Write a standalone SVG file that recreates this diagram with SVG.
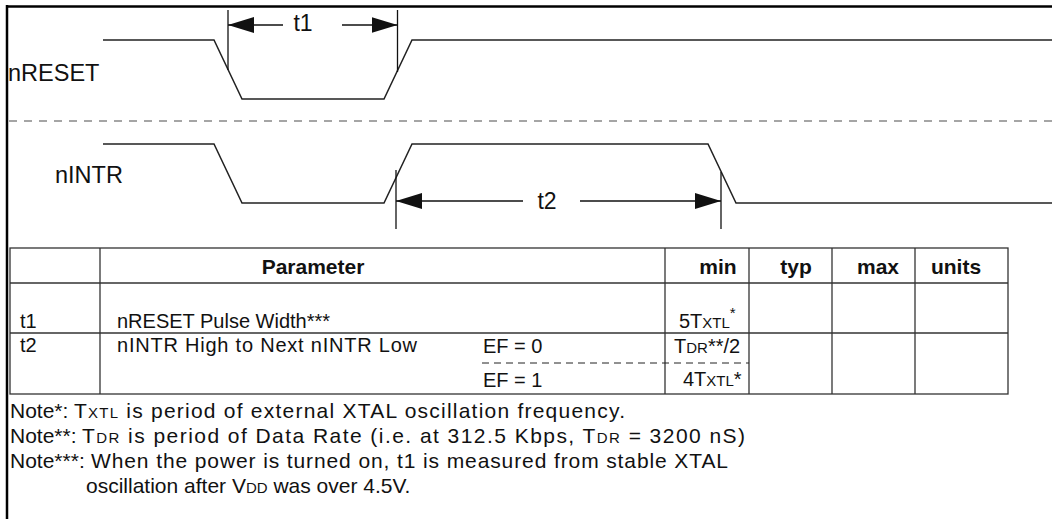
<svg xmlns="http://www.w3.org/2000/svg" width="1052" height="519" viewBox="0 0 1052 519">
<style>
text{font-family:"Liberation Sans",Arial,sans-serif;fill:#111}
.sig{fill:none;stroke:#222;stroke-width:1.5}
.dim{stroke:#111;stroke-width:1.3}
.lbl{font-size:23.5px}
.tl{font-size:23px}
.tb{font-size:20px}
.hd{font-size:21px;font-weight:bold}
.nt{font-size:21px}
.sub{font-size:15px}
.grid{stroke:#333;stroke-width:1.3;fill:none}
</style>
<defs>
<marker id="arrow" viewBox="0 0 26 16" refX="26" refY="8" markerWidth="26" markerHeight="16" markerUnits="userSpaceOnUse" orient="auto">
<path d="M0,0 L26,8 L0,16 z" fill="#111"/>
</marker>
</defs>
<rect width="1052" height="519" fill="#fff"/>
<g id="frame">
<line x1="6" y1="6.5" x2="1052" y2="6.5" stroke="#000" stroke-width="2.5"/>
<line x1="7" y1="5" x2="7" y2="519" stroke="#000" stroke-width="2.5"/>
<line x1="9" y1="121" x2="1052" y2="121" stroke="#888" stroke-width="1.5" stroke-dasharray="8 7"/>
</g>
<g id="nreset">
<text class="lbl" x="8" y="81">nRESET</text>
<polyline class="sig" points="103,40 214,40 242,99 384,99 412,40 1052,40"/>
</g>
<g id="nintr">
<text class="lbl" x="55" y="183">nINTR</text>
<polyline class="sig" points="103,144 214,144 242,203 384,203 412,144 708,144 736,203 1052,203"/>
</g>
<g id="connectors">
<line class="dim" x1="228" y1="10" x2="228" y2="70"/>
<line class="dim" x1="397.5" y1="10" x2="397.5" y2="72"/>
<line class="dim" x1="283" y1="25" x2="228" y2="25" marker-end="url(#arrow)"/>
<line class="dim" x1="342" y1="25" x2="397.5" y2="25" marker-end="url(#arrow)"/>
<line class="dim" x1="396" y1="170" x2="396" y2="229"/>
<line class="dim" x1="721" y1="172" x2="721" y2="229"/>
<line class="dim" x1="523" y1="201" x2="396" y2="201" marker-end="url(#arrow)"/>
<line class="dim" x1="580" y1="201" x2="721" y2="201" marker-end="url(#arrow)"/>
</g>
<g id="t1-label"><text class="tl" x="303" y="31" text-anchor="middle">t1</text></g>
<g id="t2-label"><text class="tl" x="547" y="209" text-anchor="middle">t2</text></g>
<g id="table">
<rect class="grid" x="10" y="248" width="998" height="146"/>
<line class="grid" x1="10" y1="283" x2="1008" y2="283"/>
<line class="grid" x1="10" y1="333" x2="1008" y2="333"/>
<line class="grid" x1="100" y1="248" x2="100" y2="394"/>
<line class="grid" x1="665" y1="248" x2="665" y2="394"/>
<line class="grid" x1="749" y1="248" x2="749" y2="394"/>
<line class="grid" x1="832" y1="248" x2="832" y2="394"/>
<line class="grid" x1="915" y1="248" x2="915" y2="394"/>
<line x1="482" y1="363" x2="749" y2="363" stroke="#222" stroke-width="1" stroke-dasharray="7 5"/>
<text class="hd" x="313" y="274" text-anchor="middle">Parameter</text>
<text class="hd" x="718" y="274" text-anchor="middle">min</text>
<text class="hd" x="796" y="274" text-anchor="middle">typ</text>
<text class="hd" x="878" y="274" text-anchor="middle">max</text>
<text class="hd" x="956" y="274" text-anchor="middle">units</text>
<text class="tb" x="20" y="328">t1</text>
<text class="tb" x="117" y="328">nRESET Pulse Width***</text>
<text class="tb" x="679" y="328">5T<tspan class="sub">XTL</tspan><tspan dy="-10" font-size="15px">*</tspan></text>
<text class="tb" x="20" y="352">t2</text>
<text class="tb" x="117" y="352" textLength="300" lengthAdjust="spacing">nINTR High to Next nINTR Low</text>
<text class="tb" x="483" y="353">EF = 0</text>
<text class="tb" x="674" y="353">T<tspan class="sub">DR</tspan>**/2</text>
<text class="tb" x="483" y="387">EF = 1</text>
<text class="tb" x="683" y="386">4T<tspan class="sub">XTL</tspan>*</text>
</g>
<g id="notes">
<text class="nt" x="10" y="418">Note*:</text>
<text class="nt" x="74" y="418" textLength="551" lengthAdjust="spacing">T<tspan class="sub">XTL</tspan> is period of external XTAL oscillation frequency.</text>
<text class="nt" x="10" y="443">Note**:</text>
<text class="nt" x="82" y="443" textLength="663" lengthAdjust="spacing">T<tspan class="sub">DR</tspan> is period of Data Rate (i.e. at 312.5 Kbps, T<tspan class="sub">DR</tspan> = 3200 nS)</text>
<text class="nt" x="10" y="468">Note***:</text>
<text class="nt" x="91" y="468" textLength="637" lengthAdjust="spacing">When the power is turned on, t1 is measured from stable XTAL</text>
<text class="nt" x="86" y="493">oscillation after V<tspan class="sub">DD</tspan> was over 4.5V.</text>
</g>
</svg>
